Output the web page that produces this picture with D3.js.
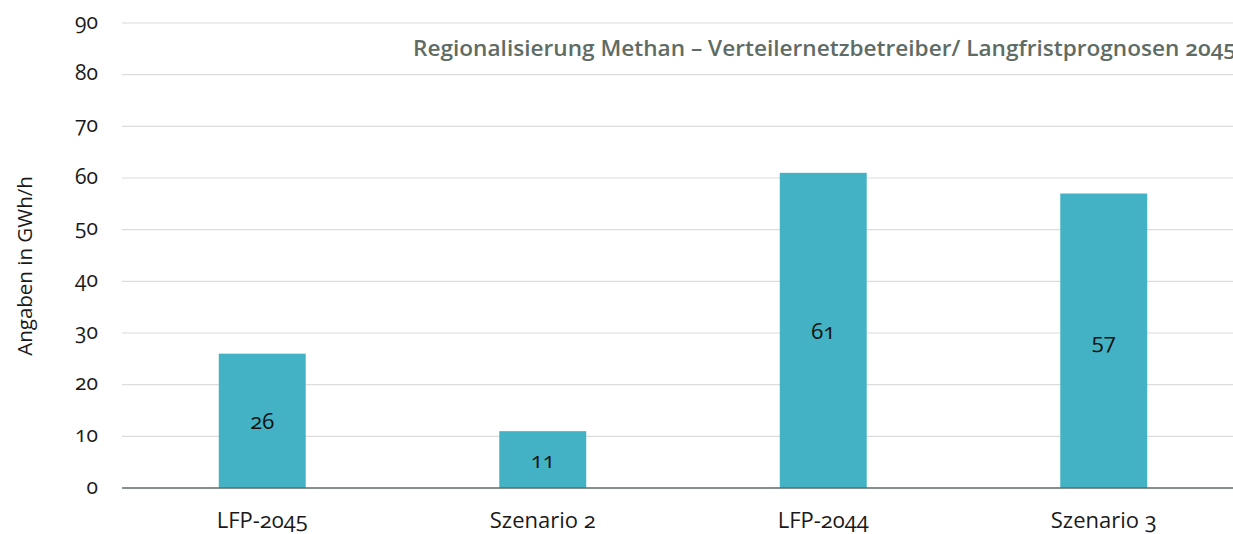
<!DOCTYPE html>
<html>
<head>
<meta charset="utf-8">
<script src="https://cdn.jsdelivr.net/npm/d3@7"></script>
<style>
  html, body { margin: 0; padding: 0; background: #fff; }
  svg { display: block; font-family: "Open Sans", "Noto Sans", sans-serif; font-feature-settings: "onum"; }
</style>
</head>
<body>
<svg id="chart" width="1233" height="534"></svg>
<script>
const categories = ["LFP-2045", "Szenario 2", "LFP-2044", "Szenario 3"];
const values = [26, 11, 61, 57];
const yTicks = [0, 10, 20, 30, 40, 50, 60, 70, 80, 90];
const titleText = "Regionalisierung Methan \u2013 Verteilernetzbetreiber/ Langfristprognosen 2045";
const yLabel = "Angaben in GWh/h";

(function () {
  const svg = d3.select("#chart");
  const plotLeft = 122, plotRight = 1244, plotTop = 23, plotBottom = 488;

  const x = d3.scaleBand().domain(categories).range([plotLeft, plotRight]).paddingInner(0.69).paddingOuter(0.345);
  const y = d3.scaleLinear().domain([0, 90]).range([plotBottom, plotTop]);

  // horizontal grid lines
  svg.append("g")
    .selectAll("line")
    .data(yTicks.filter(d => d > 0))
    .join("line")
    .attr("x1", plotLeft).attr("x2", 1233)
    .attr("y1", d => y(d)).attr("y2", d => y(d))
    .attr("stroke", "#dcdcdc").attr("stroke-width", 1.2);

  // y axis tick labels
  const yAxis = d3.axisLeft(y).tickValues(yTicks).tickSize(0).tickPadding(24);
  svg.append("g")
    .attr("transform", `translate(${plotLeft},0)`)
    .call(yAxis)
    .call(g => g.select(".domain").remove())
    .selectAll("text")
    .attr("font-size", 21).attr("fill", "#1a1a1a")
    .attr("dy", "0.25em")
    .attr("font-family", "Open Sans, sans-serif");

  // bars
  svg.append("g")
    .selectAll("rect")
    .data(categories)
    .join("rect")
    .attr("x", d => x(d))
    .attr("width", x.bandwidth())
    .attr("y", (d, i) => y(values[i]))
    .attr("height", (d, i) => y(0) - y(values[i]))
    .attr("fill", "#43b2c4");

  // value labels in the middle of each bar
  svg.append("g")
    .selectAll("text")
    .data(categories)
    .join("text")
    .attr("x", d => x(d) + x.bandwidth() / 2)
    .attr("y", (d, i) => (y(values[i]) + y(0)) / 2)
    .attr("dy", "0.38em")
    .attr("text-anchor", "middle")
    .attr("font-size", 22).attr("fill", "#111")
    .text((d, i) => values[i]);

  // baseline
  svg.append("line")
    .attr("x1", plotLeft).attr("x2", 1233)
    .attr("y1", y(0)).attr("y2", y(0))
    .attr("stroke", "#5c6b64").attr("stroke-width", 1.5);

  // category axis
  const xAxis = d3.axisBottom(x).tickSize(0).tickPadding(24);
  svg.append("g")
    .attr("transform", `translate(0,${plotBottom})`)
    .call(xAxis)
    .call(g => g.select(".domain").remove())
    .selectAll("text")
    .attr("font-size", 22).attr("fill", "#1a1a1a")
    .attr("font-family", "Open Sans, sans-serif");

  // y axis title
  svg.append("text")
    .attr("transform", `translate(32,266) rotate(-90)`)
    .attr("text-anchor", "middle")
    .attr("font-size", 20.5).attr("fill", "#1a1a1a")
    .text(yLabel);

  // chart title
  svg.append("text")
    .attr("x", 1236).attr("y", 56)
    .attr("text-anchor", "end")
    .attr("font-size", 21).attr("font-weight", 600)
    .attr("fill", "#5e6c65")
    .attr("textLength", 823).attr("lengthAdjust", "spacingAndGlyphs")
    .text(titleText);
})();
</script>
</body>
</html>
